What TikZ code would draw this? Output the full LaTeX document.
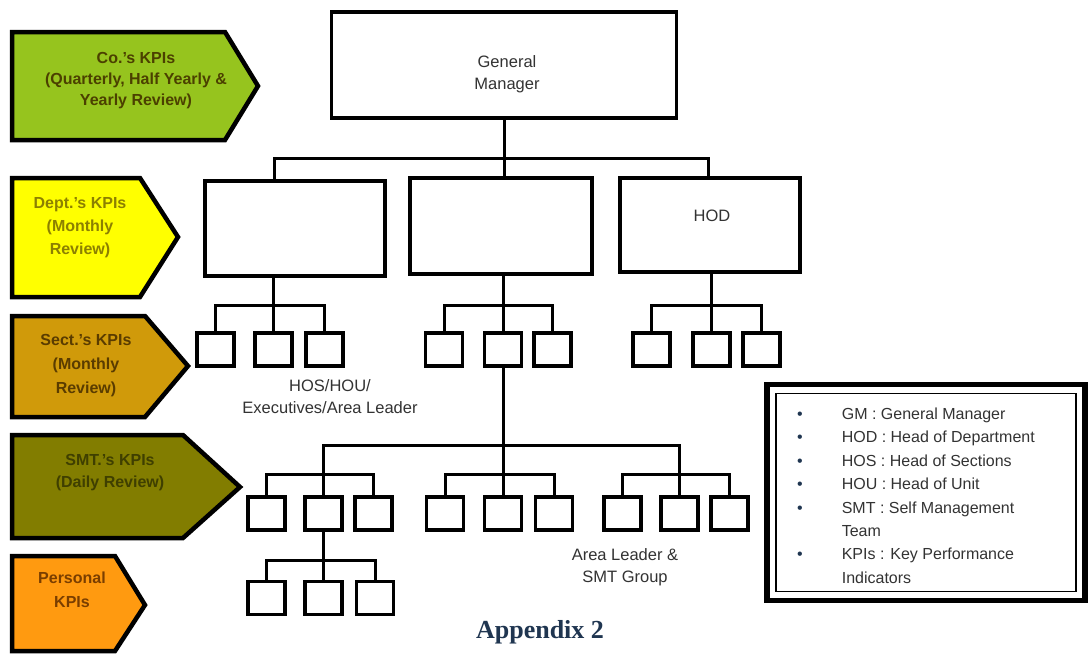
\documentclass[tikz,border=0pt]{standalone}
\usepackage{fontspec}
\setmainfont{Liberation Sans}
\newfontfamily\apxfont{Liberation Serif}
\definecolor{cCo}{HTML}{96C41E}
\definecolor{cDept}{HTML}{FFFF00}
\definecolor{cSect}{HTML}{D09A0A}
\definecolor{cSMT}{HTML}{827D00}
\definecolor{cPers}{HTML}{FF9A10}
\definecolor{tCo}{HTML}{4B4000}
\definecolor{tDept}{HTML}{8C8000}
\definecolor{tSect}{HTML}{5A3C00}
\definecolor{tSMT}{HTML}{3F3F00}
\definecolor{tPers}{HTML}{7A3E00}
\definecolor{txt}{HTML}{333333}
\definecolor{navy}{HTML}{1F3550}
\begin{document}
\begin{tikzpicture}[x=1pt,y=-1pt,
  box/.style={draw, line width=3.2pt, fill=white, inner sep=0pt},
  sbox/.style={draw, line width=3.2pt, fill=white, inner sep=0pt, minimum width=37pt, minimum height=33pt},
  conn/.style={line width=3pt},
  kpi/.style={draw, line width=4.5pt, line join=miter},
  kpitext/.style={font=\fontsize{16}{21}\selectfont\bfseries, align=center, inner sep=0pt},
  lbl/.style={font=\fontsize{16.5}{22}\selectfont, text=txt, align=center, inner sep=0pt}
]
\useasboundingbox (0,0) rectangle (1089,653);
\fill[white] (0,0) rectangle (1089,653);

% KPI arrows
\draw[kpi, fill=cCo] (12,32) -- (225,32) -- (258,86) -- (225,140) -- (12,140) -- cycle;
\node[kpitext, text=tCo] (kco) at (136,81) {Co.'s KPIs\\(Quarterly, Half Yearly \&\\Yearly Review)};
\draw[kpi, fill=cDept] (12,178) -- (140,178) -- (178,237) -- (140,297) -- (12,297) -- cycle;
\node[kpitext, text=tDept, font=\fontsize{16}{23}\selectfont\bfseries] (kdept) at (80,228) {Dept.'s KPIs\\(Monthly\\Review)};
\draw[kpi, fill=cSect] (12,316) -- (145,316) -- (188,366) -- (145,417) -- (12,417) -- cycle;
\node[kpitext, text=tSect, font=\fontsize{16}{24}\selectfont\bfseries] (ksect) at (86,366) {Sect.'s KPIs\\(Monthly\\Review)};
\draw[kpi, fill=cSMT] (12,435) -- (183,435) -- (240,487) -- (183,538) -- (12,538) -- cycle;
\node[kpitext, text=tSMT, font=\fontsize{16}{22}\selectfont\bfseries] (ksmt) at (110,473) {SMT.'s KPIs\\(Daily Review)};
\draw[kpi, fill=cPers] (12,556) -- (115,556) -- (145,605) -- (115,651) -- (12,651) -- cycle;
\node[kpitext, text=tPers, font=\fontsize{16}{24}\selectfont\bfseries] (kpers) at (72,590) {Personal\\KPIs};

% Level 1
\node[box, minimum width=345pt, minimum height=106pt] (gm) at (504,65) {};
\node[lbl] (gmt) at (507,74) {General\\Manager};

% Level 2
\node[box, minimum width=180pt, minimum height=95pt] (d1) at (295,228.5) {};
\node[box, minimum width=182pt, minimum height=96pt] (d2) at (501,226) {};
\node[box, minimum width=180pt, minimum height=94pt] (d3) at (710,225) {};
\node[lbl] (hod) at (712,216) {HOD};

\coordinate (c1) at (274,158);
\coordinate (c3) at (708,158);
\draw[conn] (gm.south) -- (gm.south |- d2.north);
\draw[conn] (d1.north -| c1) -- (c1) -- (c3) -- (d3.north -| c3);

% Level 3 (sections)
\coordinate (y2) at (0,305);
\node[sbox] (s11) at (215.5,349.5) {};
\node[sbox] (s12) at (273.5,349.5) {};
\node[sbox] (s13) at (324.5,349.5) {};
\node[sbox] (s21) at (444,349.5) {};
\node[sbox] (s22) at (503,349.5) {};
\node[sbox] (s23) at (552.5,349.5) {};
\node[sbox] (s31) at (651.5,349.5) {};
\node[sbox] (s32) at (711.5,349.5) {};
\node[sbox] (s33) at (761.5,349.5) {};

\draw[conn] (d1.south -| s12) -- (s12.north);
\draw[conn] (s11.north) -- (s11.north |- y2) -- (s13.north |- y2) -- (s13.north);
\draw[conn] (d2.south -| s22) -- (s22.north);
\draw[conn] (s21.north) -- (s21.north |- y2) -- (s23.north |- y2) -- (s23.north);
\draw[conn] (d3.south -| s32) -- (s32.north);
\draw[conn] (s31.north) -- (s31.north |- y2) -- (s33.north |- y2) -- (s33.north);

\node[lbl] (hos) at (330,397) {HOS/HOU/\\Executives/Area Leader};

% Level 4 (SMT)
\coordinate (y3) at (0,445);
\coordinate (y4) at (0,474);
\node[sbox] (t11) at (266.5,513.5) {};
\node[sbox] (t12) at (323.5,513.5) {};
\node[sbox] (t13) at (373.5,513.5) {};
\node[sbox] (t21) at (445,513.5) {};
\node[sbox] (t22) at (503,513.5) {};
\node[sbox] (t23) at (554,513.5) {};
\node[sbox] (t31) at (622.5,513.5) {};
\node[sbox] (t32) at (679.5,513.5) {};
\node[sbox] (t33) at (729.5,513.5) {};

\draw[conn] (s22.south) -- (t22.north);
\draw[conn] (t12.north) -- (t12.north |- y3) -- (t32.north |- y3) -- (t32.north);
\draw[conn] (t11.north) -- (t11.north |- y4) -- (t13.north |- y4) -- (t13.north);
\draw[conn] (t21.north) -- (t21.north |- y4) -- (t23.north |- y4) -- (t23.north);
\draw[conn] (t31.north) -- (t31.north |- y4) -- (t33.north |- y4) -- (t33.north);

\node[lbl] (alsmt) at (625,567) {Area Leader \&\\SMT Group};

% Level 5 (personal)
\coordinate (y5) at (0,560);
\node[sbox] (u1) at (266.5,598) {};
\node[sbox] (u2) at (323.5,598) {};
\node[sbox] (u3) at (375,598) {};
\draw[conn] (t12.south) -- (u2.north);
\draw[conn] (u1.north) -- (u1.north |- y5) -- (u3.north |- y5) -- (u3.north);

% Legend
\node[draw, line width=5.5pt, minimum width=318pt, minimum height=216pt, inner sep=0pt] (leg) at (926,492.5) {};
\node[draw, line width=1.5pt, minimum width=300pt, minimum height=198pt, inner sep=0pt] (legin) at (leg.center) {};
\node[anchor=north west, inner sep=0pt, text=txt, font=\fontsize{16}{23.4}\selectfont] (legt) at (797,403) {%
\begin{tabular}{@{}l@{\hspace{39pt}}l@{}}
\textcolor{navy}{\textbullet} & GM : General Manager\\
\textcolor{navy}{\textbullet} & HOD : Head of Department\\
\textcolor{navy}{\textbullet} & HOS : Head of Sections\\
\textcolor{navy}{\textbullet} & HOU : Head of Unit\\
\textcolor{navy}{\textbullet} & SMT : Self Management\\
 & Team\\
\textcolor{navy}{\textbullet} & KPIs : Key Performance\\
 & Indicators
\end{tabular}};

% Caption
\node[font=\apxfont\bfseries\fontsize{26}{30}\selectfont, text=navy, inner sep=0pt] (apx) at (540,632) {Appendix 2};
\end{tikzpicture}
\end{document}
